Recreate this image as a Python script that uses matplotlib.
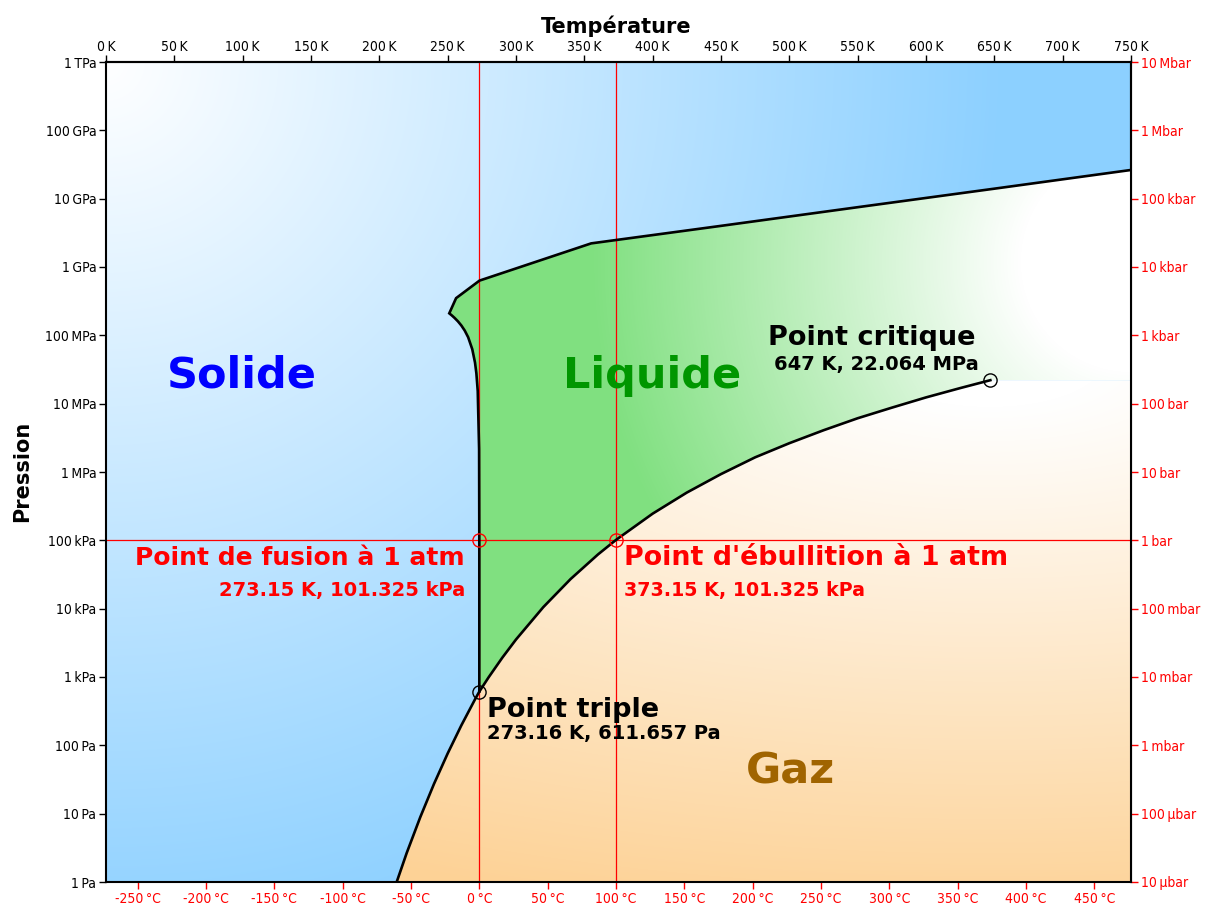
import numpy as np
import matplotlib
matplotlib.use("Agg")
import matplotlib.pyplot as plt
from matplotlib.patches import Polygon
from matplotlib import font_manager as fm

# ---------------- data ----------------
# sublimation curve (K, Pa)
subl_T = [212.7, 220.0, 230.0, 240.0, 250.0, 260.0, 270.0, 273.16]
subl_P = [1.0, 2.65, 8.94, 27.28, 76.0, 195.8, 470.1, 611.657]
# vaporization curve (K, Pa)
vap_T = [273.16, 280.0, 290.0, 300.0, 320.0, 340.0, 360.0, 373.15, 400.0, 425.0,
         450.0, 475.0, 500.0, 525.0, 550.0, 575.0, 600.0, 625.0, 647.096]
vap_P = [611.657, 991.8, 1919.9, 3536.8, 10546.0, 27188.0, 62194.0, 101325.0,
         245770.0, 500000.0, 932000.0, 1.64e6, 2.639e6, 4.08e6, 6.117e6, 8.74e6,
         12.345e6, 16.9e6, 22.064e6]
# melting curve ice Ih -> ice III -> V -> VI -> VII (K, Pa)
melt_T = [273.16, 273.15, 273.0, 272.0, 271.0, 270.0, 268.0, 265.0, 262.5, 260.0,
          257.5, 255.0, 253.0, 251.165, 256.164, 273.31, 355.0, 450.0, 550.0, 650.0, 750.0]
melt_P = [611.657, 101325.0, 2.16e6, 15.3e6, 27.9e6, 40.0e6, 62.6e6, 93.7e6, 117.3e6,
          139.4e6, 160.3e6, 180.3e6, 195.9e6, 209.9e6, 350.1e6, 632.4e6, 2.216e9,
          4.0e9, 7.5e9, 1.4e10, 2.63e10]

triple = (273.16, 611.657)
critical = (647.096, 22.064e6)
fusion_1atm = (273.15, 101325.0)
boil_1atm = (373.15, 101325.0)

SP = "\u2009"
K_ticks = list(range(0, 751, 50))
C_ticks = list(range(-250, 451, 50))
P_ticks = [10.0 ** e for e in range(0, 13)]
P_labels = ["1 Pa", "10 Pa", "100 Pa", "1 kPa", "10 kPa", "100 kPa", "1 MPa",
            "10 MPa", "100 MPa", "1 GPa", "10 GPa", "100 GPa", "1 TPa"]
bar_labels = ["10 µbar", "100 µbar", "1 mbar", "10 mbar", "100 mbar", "1 bar",
              "10 bar", "100 bar", "1 kbar", "10 kbar", "100 kbar", "1 Mbar", "10 Mbar"]

Tmin, Tmax = 0.0, 750.0
Pmin, Pmax = 1.0, 1e12

# condensed font for tick labels if available
tick_fp = None
for f in fm.fontManager.ttflist:
    if f.name == "DejaVu Sans" and "ondensed" in f.fname and f.weight in (400, "normal", "regular") \
            and "Oblique" not in f.fname and "Bold" not in f.fname:
        tick_fp = fm.FontProperties(fname=f.fname, size=10)
        break
if tick_fp is None:
    for f in fm.fontManager.ttflist:
        if f.name in ("Liberation Sans Narrow", "Roboto Condensed", "Open Sans Condensed") \
                and "Bold" not in f.fname and "Italic" not in f.fname:
            tick_fp = fm.FontProperties(fname=f.fname, size=10.5)
            break
if tick_fp is None:
    tick_fp = fm.FontProperties(family="DejaVu Sans", size=9)


def sp(s):
    return s.replace(" ", SP)


# ---------------- figure ----------------
fig = plt.figure(figsize=(12.09, 9.06), dpi=100)
ax = fig.add_axes([106 / 1209, 1 - 882 / 906, 1025 / 1209, 820 / 906])
ax.set_xlim(Tmin, Tmax)
ax.set_yscale("log")
ax.set_ylim(Pmin, Pmax)

W, H = 1025, 820
xx, yy = np.meshgrid(np.arange(W) + 0.5, np.arange(H) + 0.5)


def radial(cx, cy, r0, r1, col, sx=1.0, sy=1.0):
    d = np.hypot((xx - cx) / sx, (yy - cy) / sy)
    t = np.clip((d - r0) / (r1 - r0), 0, 1)[..., None]
    white = np.array([1.0, 1.0, 1.0])
    c = np.array(col) / 255.0
    return white * (1 - t) + c * t


# solid background
solid_img = radial(0, 0, 0, 900, (140, 208, 255))
ax.imshow(solid_img, extent=(0, 1, 0, 1), transform=ax.transAxes, origin="upper",
          aspect="auto", zorder=0, interpolation="bilinear")

# liquid polygon
liq_T = melt_T + [Tmax, Tmax] + vap_T[::-1]
liq_P = melt_P + [2.63e10, critical[1]] + vap_P[::-1]
liq_poly = Polygon(np.column_stack([liq_T, liq_P]), closed=True, facecolor="none",
                   edgecolor="none", transform=ax.transData)
ax.add_patch(liq_poly)
liq_img = radial(1025, 200, 110, 540, (128, 224, 128))
im = ax.imshow(liq_img, extent=(0, 1, 0, 1), transform=ax.transAxes, origin="upper",
               aspect="auto", zorder=1, interpolation="bilinear")
im.set_clip_path(liq_poly)

# gas polygon
gas_T = subl_T + vap_T[1:] + [Tmax, Tmax]
gas_P = subl_P + vap_P[1:] + [critical[1], Pmin]
gas_poly = Polygon(np.column_stack([gas_T, gas_P]), closed=True, facecolor="none",
                   edgecolor="none", transform=ax.transData)
ax.add_patch(gas_poly)
gas_img = radial(884, 300, 0.08, 1.0, (253, 210, 150), sx=1400, sy=560)
im2 = ax.imshow(gas_img, extent=(0, 1, 0, 1), transform=ax.transAxes, origin="upper",
                aspect="auto", zorder=1, interpolation="bilinear")
im2.set_clip_path(gas_poly)

# reference lines
ax.axvline(fusion_1atm[0], color="red", lw=0.9, zorder=3)
ax.axvline(boil_1atm[0], color="red", lw=0.9, zorder=3)
ax.axhline(fusion_1atm[1], color="red", lw=0.9, zorder=3)

# phase boundaries
ax.plot(subl_T + vap_T[1:], subl_P + vap_P[1:], color="black", lw=1.9, zorder=4,
        solid_joinstyle="round")
ax.plot(melt_T, melt_P, color="black", lw=1.9, zorder=4, solid_joinstyle="miter")

# markers
ax.plot(*triple, "o", ms=9.5, mfc="none", mec="black", mew=1.0, zorder=5)
ax.plot(*critical, "o", ms=9.5, mfc="none", mec="black", mew=1.0, zorder=5)
ax.plot(*fusion_1atm, "o", ms=9.5, mfc="none", mec="red", mew=1.0, zorder=5)
ax.plot(*boil_1atm, "o", ms=9.5, mfc="none", mec="red", mew=1.0, zorder=5)

# region labels
ax.text(99.5, 10 ** 7.405, "Solide", color="#0000ff", fontsize=31, fontweight="bold",
        ha="center", va="center", zorder=6)
ax.text(399.5, 10 ** 7.405, "Liquide", color="#009600", fontsize=31, fontweight="bold",
        ha="center", va="center", zorder=6)
ax.text(500.5, 10 ** 1.61, "Gaz", color="#a06400", fontsize=31, fontweight="bold",
        ha="center", va="center", zorder=6)

ax.text(560.5, 10 ** 7.96, "Point critique", color="black", fontsize=19.5, fontweight="bold",
        ha="center", va="center", zorder=6)
ax.text(563.4, 10 ** 7.58, "647 K, 22.064 MPa", color="black", fontsize=14, fontweight="bold",
        ha="center", va="center", zorder=6)

ax.text(262.7, 10 ** 4.74, "Point de fusion à 1 atm", color="red", fontsize=18,
        fontweight="bold", ha="right", va="center", zorder=6)
ax.text(262.7, 10 ** 4.259, "273.15 K, 101.325 kPa", color="red", fontsize=14,
        fontweight="bold", ha="right", va="center", zorder=6)
ax.text(379.0, 10 ** 4.74, "Point d'ébullition à 1 atm", color="red", fontsize=19.4,
        fontweight="bold", ha="left", va="center", zorder=6)
ax.text(379.0, 10 ** 4.259, "373.15 K, 101.325 kPa", color="red", fontsize=13.7,
        fontweight="bold", ha="left", va="center", zorder=6)

ax.text(278.8, 10 ** 2.517, "Point triple", color="black", fontsize=19.5, fontweight="bold",
        ha="left", va="center", zorder=6)
ax.text(278.8, 10 ** 2.18, "273.16 K, 611.657 Pa", color="black", fontsize=14,
        fontweight="bold", ha="left", va="center", zorder=6)

# ---------------- axes / ticks ----------------
ax.set_yticks(P_ticks)
ax.set_yticklabels([sp(s) for s in P_labels], fontproperties=tick_fp)
ax.yaxis.set_minor_locator(matplotlib.ticker.NullLocator())
ax.tick_params(axis="y", direction="out", length=5, width=1, pad=2, colors="black")

# bottom: Celsius
ax.set_xticks([c + 273.15 for c in C_ticks])
ax.set_xticklabels([sp(f"{c} °C") for c in C_ticks], color="red", fontproperties=tick_fp)
ax.tick_params(axis="x", direction="out", length=5, width=1, pad=2, colors="red")

# top: Kelvin
axt = ax.secondary_xaxis("top")
axt.set_xticks(K_ticks)
axt.set_xticklabels([sp(f"{k} K") for k in K_ticks], fontproperties=tick_fp)
axt.tick_params(direction="out", length=5, width=1, pad=1, colors="black")

# right: bar
axr = ax.secondary_yaxis("right")
axr.set_yticks(P_ticks)
axr.set_yticklabels([sp(s) for s in bar_labels], color="red", fontproperties=tick_fp)
axr.yaxis.set_minor_locator(matplotlib.ticker.NullLocator())
axr.tick_params(direction="out", length=5, width=1, pad=2, colors="red")

fig.text(616 / 1209, 1 - 26 / 906, "Température", fontsize=15, fontweight="bold",
         ha="center", va="center")
fig.text(22 / 1209, 1 - 471 / 906, "Pression", fontsize=15, fontweight="bold",
         ha="center", va="center", rotation=90)

for s in list(ax.spines.values()):
    s.set_linewidth(1.5)
    s.set_color("black")
    s.set_zorder(10)
for s in list(axt.spines.values()) + list(axr.spines.values()):
    s.set_linewidth(1.5)
    s.set_color("black")

fig.savefig("out.png", dpi=100)
